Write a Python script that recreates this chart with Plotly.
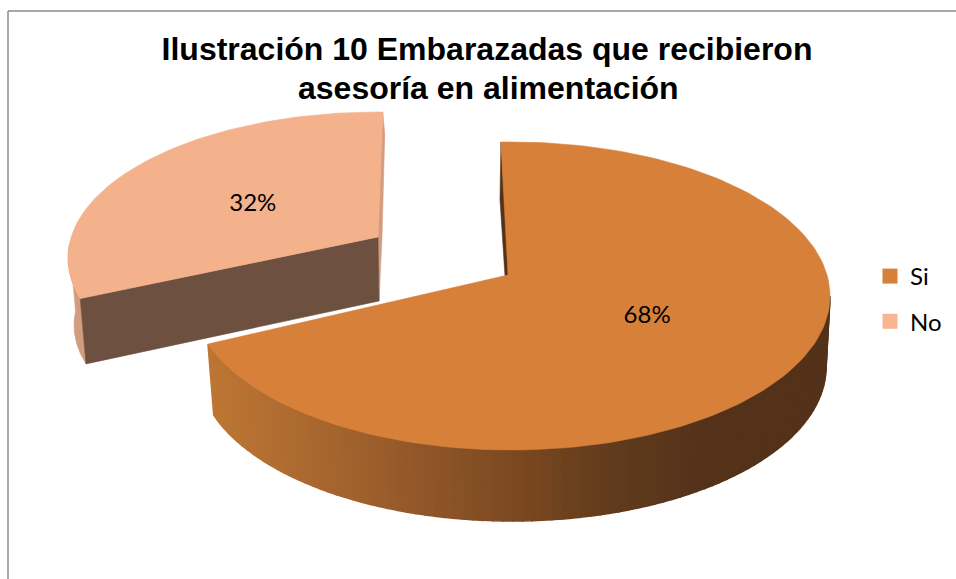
import math
import plotly.graph_objects as go

# data
categories = ["Si", "No"]
percent = [68, 32]
colors = ["#D7803A", "#F4B28C"]
legend_colors = ["#D7803A", "#FBB491"]

title_lines = ["Ilustración 10 Embarazadas que recibieron", "asesoría en alimentación"]

# 3d look of the pie: top and bottom ellipses per slice, in pixels of the page
FORESHORTEN = 0.46
label_fraction = [0.47, 0.5]
label_shift = [(0, 4), (-6, 4)]
si_geo = dict(apex=(508, 275), top=(511, 296, 319, 154), bottom=(512, 367, 314, 154), rot=-1.4)
no_geo = dict(apex=(378, 237), top=(378, 258, 310, 146), bottom=(378, 325, 304, 140), rot=1.0)

# wall shading going from left to right
wall_stops = [(213, (189, 118, 51)), (300, (173, 106, 48)), (420, (146, 87, 41)),
              (520, (122, 72, 32)), (620, (95, 58, 28)), (700, (84, 50, 26))]
NO_FRONT = "#6D5040"
NO_SIDE = "#D49C7E"
SI_INNER = "#54321A"


def rim_point(geo, deg):
    # cast a foreshortened ray from the apex on to the top ellipse
    cx, cy, rx, ry = geo["top"]
    ax, ay = geo["apex"]
    a = math.radians(deg)
    dx, dy = math.sin(a), -FORESHORTEN * math.cos(a)
    px, py = (ax - cx) / rx, (ay - cy) / ry
    qx, qy = dx / rx, dy / ry
    aa = qx * qx + qy * qy
    bb = 2 * (px * qx + py * qy)
    cc = px * px + py * py - 1
    s = (-bb + math.sqrt(bb * bb - 4 * aa * cc)) / (2 * aa)
    return ax + s * dx, ay + s * dy


def ellipse_param(geo, pt):
    cx, cy, rx, ry = geo["top"]
    return math.atan2((pt[0] - cx) / rx, -(pt[1] - cy) / ry)


def on_ellipse(ell, t):
    cx, cy, rx, ry = ell
    return cx + rx * math.sin(t), cy - ry * math.cos(t)


def shade(x):
    if x <= wall_stops[0][0]:
        c = wall_stops[0][1]
    elif x >= wall_stops[-1][0]:
        c = wall_stops[-1][1]
    else:
        for (x0, c0), (x1, c1) in zip(wall_stops, wall_stops[1:]):
            if x0 <= x <= x1:
                f = (x - x0) / (x1 - x0)
                c = tuple(c0[i] + f * (c1[i] - c0[i]) for i in range(3))
                break
    return "rgb(%d,%d,%d)" % tuple(round(v) for v in c)


def poly(points, color, width=0.6):
    xs = [p[0] for p in points] + [points[0][0]]
    ys = [p[1] for p in points] + [points[0][1]]
    return go.Scatter(x=xs, y=ys, mode="lines", fill="toself", fillcolor=color,
                      line=dict(color=color, width=width), showlegend=False, hoverinfo="skip")


fig = go.Figure()

si_start = si_geo["rot"]
si_end = si_start + percent[0] * 3.6
no_start = no_geo["rot"] + si_end - si_geo["rot"]
no_end = no_start + percent[1] * 3.6

# No slice: outer wall, thin inner wall, front face, top
n_rim_end = rim_point(no_geo, no_end)
n_rim_start = rim_point(no_geo, no_start)
t0 = ellipse_param(no_geo, n_rim_start)
t_side = -math.pi / 2 + 0.1
side = []
steps = 24
for i in range(steps + 1):
    side.append(on_ellipse(no_geo["top"], t0 + (t_side - t0) * i / steps))
for i in range(steps, -1, -1):
    side.append(on_ellipse(no_geo["bottom"], t0 + (t_side - t0) * i / steps))
fig.add_trace(poly(side, NO_SIDE))

ax, ay = no_geo["apex"]
front_drop = 64
fig.add_trace(poly([n_rim_end, (n_rim_end[0] + 2, n_rim_end[1] + 22), (ax + 4, ay),
                    (ax + 1, ay + front_drop), (ax, ay)], NO_SIDE))
fig.add_trace(poly([(ax, ay), n_rim_start, on_ellipse(no_geo["bottom"], t0),
                    (ax + 1, ay + front_drop)], NO_FRONT))

no_top = [(ax, ay)] + [rim_point(no_geo, no_start + (no_end - no_start) * i / 80) for i in range(81)]
fig.add_trace(poly(no_top, colors[1]))

# Si slice: inner sliver, shaded wall, top
s_rim_start = rim_point(si_geo, si_start)
s_rim_end = rim_point(si_geo, si_end)
ax, ay = si_geo["apex"]
mid = (s_rim_start[0] * 0.57 + ax * 0.43 - 4, s_rim_start[1] * 0.57 + ay * 0.43)
fig.add_trace(poly([s_rim_start, mid, (ax - 3, ay + 1), (ax + 1, ay)], SI_INNER))

t_right = math.radians(90)
t_left = ellipse_param(si_geo, s_rim_end) + 2 * math.pi
strips = 90
for i in range(strips):
    a = t_right + (t_left - t_right) * i / strips
    b = t_right + (t_left - t_right) * (i + 1) / strips
    p0, p1 = on_ellipse(si_geo["top"], a), on_ellipse(si_geo["top"], b)
    q0, q1 = on_ellipse(si_geo["bottom"], a), on_ellipse(si_geo["bottom"], b)
    fig.add_trace(poly([p0, p1, q1, q0], shade((q0[0] + q1[0]) / 2), width=1.5))

si_top = [(ax, ay)] + [rim_point(si_geo, si_start + (si_end - si_start) * i / 160) for i in range(161)]
fig.add_trace(poly(si_top, colors[0]))

# percent labels
label_x, label_y, label_text = [], [], []
slices = [(si_geo, si_start, si_end), (no_geo, no_start, no_end)]
for (geo, a0, a1), v, frac, shift in zip(slices, percent, label_fraction, label_shift):
    rx_, ry_ = rim_point(geo, (a0 + a1) / 2)
    label_x.append(geo["apex"][0] + frac * (rx_ - geo["apex"][0]) + shift[0])
    label_y.append(geo["apex"][1] + frac * (ry_ - geo["apex"][1]) + shift[1])
    label_text.append(f"{v}%")
fig.add_trace(go.Scatter(x=label_x, y=label_y, mode="text", text=label_text, showlegend=False,
                         textfont=dict(family="Lato", size=24, color="#000000"), hoverinfo="skip"))

# legend entries
for name, col in zip(categories, legend_colors):
    fig.add_trace(go.Scatter(x=[None], y=[None], mode="markers", name=name, legendgroup=name,
                             marker=dict(symbol="square", size=15, color=col)))

title_font = dict(family="Liberation Sans", size=32, color="#000000", weight="bold")

fig.update_layout(
    width=956,
    height=579,
    margin=dict(l=0, r=0, t=0, b=0),
    paper_bgcolor="#FFFFFF",
    plot_bgcolor="#FFFFFF",
    title=dict(text=title_lines[0], x=487 / 956, xanchor="center", y=1 - 38 / 579, yanchor="top",
               font=title_font),
    annotations=[dict(text=title_lines[1], xref="paper", yref="paper", x=488 / 956, y=1 - 88 / 579,
                      xanchor="center", yanchor="middle", showarrow=False, font=title_font)],
    xaxis=dict(range=[0, 956], visible=False),
    yaxis=dict(range=[579, 0], visible=False),
    legend=dict(x=877 / 956, y=1 - 254 / 579, xanchor="left", yanchor="top", tracegroupgap=11,
                font=dict(family="Lato", size=24, color="#000000"), itemsizing="trace",
                indentation=-7, bgcolor="rgba(0,0,0,0)"),
    shapes=[
        dict(type="line", xref="paper", yref="paper", x0=8 / 956, x1=8 / 956, y0=0, y1=1 - 11 / 579,
             line=dict(color="#8C8C8C", width=1.5)),
        dict(type="line", xref="paper", yref="paper", x0=8 / 956, x1=1, y0=1 - 11 / 579, y1=1 - 11 / 579,
             line=dict(color="#8C8C8C", width=1.5)),
    ],
)

# plotly's page keeps the browser's default body margin, which would shift everything
fig.write_html("out.html", config={"displayModeBar": False},
               post_script="document.body.style.margin = '0';")
